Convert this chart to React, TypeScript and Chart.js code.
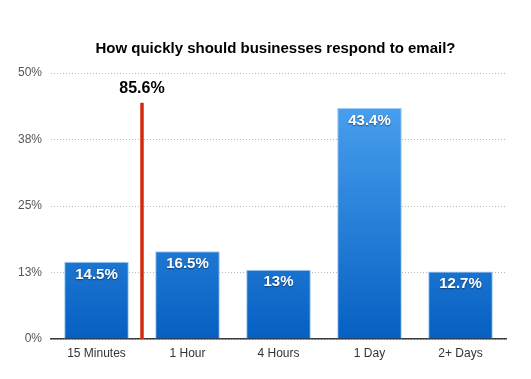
import React, { useEffect, useRef } from "react";
import { Chart, registerables } from "chart.js";

Chart.register(...registerables);

const TITLE = "How quickly should businesses respond to email?";
const categories = ["15 Minutes", "1 Hour", "4 Hours", "1 Day", "2+ Days"];
const values = [14.5, 16.5, 13, 43.4, 12.7];
const valueLabels = ["14.5%", "16.5%", "13%", "43.4%", "12.7%"];
const yTicks = [0, 12.5, 25, 37.5, 50];
const markerPosition = 0.5; // between "15 Minutes" and "1 Hour"
const markerTop = 44.4;
const markerLabel = "85.6%";

const FONT = "'Liberation Sans', Arial, Helvetica, sans-serif";

export default function App() {
  const ref = useRef<HTMLCanvasElement | null>(null);

  useEffect(() => {
    document.body.style.margin = "0";
    const canvas = ref.current!;
    const overlay = {
      id: "overlay",
      afterDatasetsDraw(chart: any) {
        const ctx = chart.ctx;
        const area = chart.chartArea;
        const xs = chart.scales.x;
        const ys = chart.scales.y;
        // title
        ctx.save();
        ctx.fillStyle = "#000";
        ctx.font = `bold 15px ${FONT}`;
        ctx.textAlign = "center";
        ctx.textBaseline = "middle";
        ctx.fillText(TITLE, (area.left + area.right) / 2 - 3, 49);
        // bar labels
        const meta = chart.getDatasetMeta(0);
        ctx.font = `bold 15px ${FONT}`;
        ctx.textBaseline = "middle";
        meta.data.forEach((bar: any, i: number) => {
          ctx.save();
          ctx.shadowColor = "rgba(0,0,0,0.45)";
          ctx.shadowBlur = 1.5;
          ctx.shadowOffsetY = 1;
          ctx.fillStyle = "#fff";
          ctx.fillText(valueLabels[i], bar.x, bar.y + 12.5);
          ctx.restore();
        });
        // marker line
        const mx = xs.getPixelForValue(markerPosition);
        const top = ys.getPixelForValue(markerTop);
        ctx.strokeStyle = "#d42a0c";
        ctx.lineWidth = 3.5;
        ctx.beginPath();
        ctx.moveTo(mx, top);
        ctx.lineTo(mx, area.bottom);
        ctx.stroke();
        ctx.fillStyle = "#000";
        ctx.font = `bold 16px ${FONT}`;
        ctx.fillText(markerLabel, mx, top - 14);
        ctx.restore();
      },
    };

    const chart = new Chart(canvas, {
      type: "bar",
      data: {
        labels: categories,
        datasets: [
          {
            data: values,
            backgroundColor: (c: any) => {
              const ch = c.chart;
              const a = ch.chartArea;
              if (!a) return "#2a86e0";
              const el = c.element;
              const topY = el && el.y != null ? el.y : a.top;
              const g = ch.ctx.createLinearGradient(0, topY, 0, a.bottom);
              g.addColorStop(0, "#52a8f4");
              g.addColorStop(1, "#0660c2");
              return g;
            },
            borderColor: "rgba(150,200,245,0.9)",
            borderWidth: { left: 1, right: 1, top: 1, bottom: 0 },
            barPercentage: 0.71,
            categoryPercentage: 1,
          },
        ],
      },
      plugins: [overlay],
      options: {
        animation: false,
        responsive: false,
        layout: { padding: { top: 73, right: 25, left: 0, bottom: 0 } },
        plugins: { legend: { display: false }, tooltip: { enabled: false }, title: { display: false } },
        scales: {
          x: {
            grid: { display: false, drawTicks: false },
            border: { color: "#3a3a3a", width: 1.5 },
            ticks: { color: "#333", font: { family: FONT, size: 12 }, padding: 7 },
            afterFit: (s: any) => {
              s.height = 40;
            },
          },
          y: {
            min: 0,
            max: 50,
            afterBuildTicks: (s: any) => {
              s.ticks = yTicks.map((v) => ({ value: v }));
            },
            grid: { color: "#b8b8b8", drawTicks: false, lineWidth: 1 },
            border: { display: false, dash: [1, 2] },
            ticks: {
              color: "#555",
              font: { family: FONT, size: 12 },
              padding: 9,
              callback: (v: any) => Math.round(Number(v)) + "%",
            },
            afterFit: (s: any) => {
              s.width = 51;
            },
          },
        },
      },
    } as any);
    return () => chart.destroy();
  }, []);

  return <canvas ref={ref} width={531} height={379} style={{ display: "block" }} />;
}
